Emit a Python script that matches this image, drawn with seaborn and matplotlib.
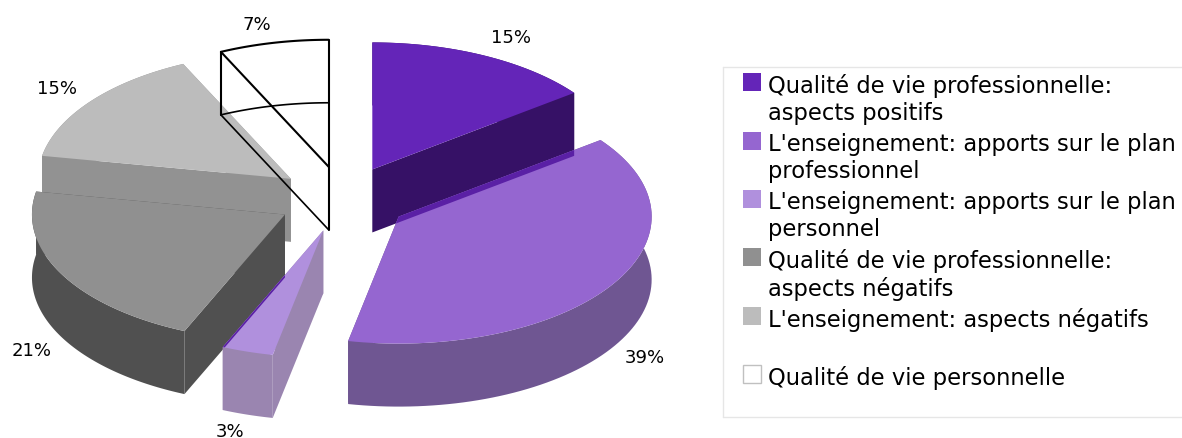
import matplotlib
matplotlib.use("Agg")
import matplotlib.pyplot as plt
import numpy as np
import seaborn as sns
from matplotlib.patches import Polygon, Rectangle

# shares of the pie, clockwise from twelve o'clock
categories = [
    "Qualité de vie professionnelle:\naspects positifs",
    "L'enseignement: apports sur le plan\nprofessionnel",
    "L'enseignement: apports sur le plan\npersonnel",
    "Qualité de vie professionnelle:\naspects négatifs",
    "L'enseignement: aspects négatifs",
    "Qualité de vie personnelle",
]
values = [14.7, 38.5, 3.3, 21.4, 15.1, 7.0]

top_colors = ["#6425b8", "#9566d0", "#b090dd", "#909090", "#bcbcbc", "#ffffff"]
wall_colors = ["#361166", "#6f5692", "#9a85b0", "#505050", "#929292", "#ffffff"]
overlap_color = "#5a20a5"

# the pie geometry, in pixels of the picture
CENTER = (343, 200)
RX, RY = 253, 127
DEPTH = 63
EXPLODE = 0.26

label_pos = [(511, 38), (645, 358), (230, 432), (32, 351), (57, 89), (257, 25)]
legend_rows = [74, 133, 191, 249, 308, 366]

sns.set_style("white")
palette = sns.color_palette(top_colors)
wall_palette = sns.color_palette(wall_colors)


def slice_geometry(start, end):
    """
    Apex and outer arc of a slice, angles in degrees clockwise from the top
    """
    mid = np.radians((start + end) / 2)
    apex = np.array([CENTER[0] + EXPLODE * RX * np.sin(mid),
                     CENTER[1] - EXPLODE * RY * np.cos(mid)])
    theta = np.radians(np.linspace(start, end, 80))
    arc = np.column_stack([apex[0] + RX * np.sin(theta), apex[1] - RY * np.cos(theta)])
    return apex, arc


def draw_solid(ax, idx, apex, arc):
    """
    Draw walls then top surface of one slice, returns the top patch
    """
    down = np.array([0, DEPTH])
    wall = wall_palette[idx]
    # radial walls
    for edge in (arc[0], arc[-1]):
        pts = [apex, edge, edge + down, apex + down]
        ax.add_patch(Polygon(pts, closed=True, fc=wall, ec="none"))
    # outer curved wall
    pts = np.vstack([arc, (arc + down)[::-1]])
    ax.add_patch(Polygon(pts, closed=True, fc=wall, ec="none"))
    pts = np.vstack([apex, arc])
    return ax.add_patch(Polygon(pts, closed=True, fc=palette[idx], ec="none"))


def draw_overlap(ax, wall_geo, edge, top_patch):
    """
    Where a radial wall runs over the next slice the original shows a darker strip
    """
    apex, arc = wall_geo
    down = np.array([0, DEPTH])
    pts = [apex, arc[edge], arc[edge] + down, apex + down]
    strip = Polygon(pts, closed=True, fc=overlap_color, ec="none")
    ax.add_patch(strip)
    strip.set_clip_path(top_patch)


fig = plt.figure(figsize=(11.82, 4.39), dpi=100)
ax = fig.add_axes([0, 0, 1, 1])
ax.set_xlim(0, 1182)
ax.set_ylim(439, 0)
ax.axis("off")

edges = np.cumsum([0] + values) * 3.6
geometry = [slice_geometry(edges[i], edges[i + 1]) for i in range(len(values))]

# back to front
tops = {}
for idx in [4, 3, 0, 1, 2]:
    tops[idx] = draw_solid(ax, idx, *geometry[idx])

draw_overlap(ax, geometry[0], -1, tops[1])
draw_overlap(ax, geometry[3], 0, tops[2])

# white slice is only an outline
apex, arc = geometry[5]
ax.plot(arc[:, 0], arc[:, 1], color="black", lw=1.5)
ax.plot([apex[0], arc[0, 0]], [apex[1], arc[0, 1]], color="black", lw=1.5)
ax.plot([arc[0, 0], arc[0, 0]], [arc[0, 1], arc[0, 1] + DEPTH], color="black", lw=1.5)
ax.plot([arc[-1, 0], arc[-1, 0]], [arc[-1, 1], apex[1] + DEPTH], color="black", lw=1.5)
ax.plot(arc[:, 0], arc[:, 1] + DEPTH, color="black", lw=1.2)
ax.plot([apex[0], arc[0, 0]], [apex[1] + DEPTH, arc[0, 1] + DEPTH], color="black", lw=1.2)

for val, (x, y) in zip(values, label_pos):
    ax.text(x, y, f"{int(val + 0.5)}%", ha="center", va="center", fontsize=13, color="black")

# legend box, only top, left and bottom are visible
for xs, ys in [([723, 723], [68, 418]), ([723, 1182], [68, 68]), ([723, 1182], [418, 418])]:
    ax.plot(xs, ys, color="#e6e6e6", lw=1)

for idx, (name, y) in enumerate(zip(categories, legend_rows)):
    ax.add_patch(Rectangle((743, y), 18, 18, fc=palette[idx],
                           ec="#c0c0c0" if idx == 5 else "none", lw=1))
    ax.text(768, y, name, ha="left", va="top", fontsize=16.3, color="black", linespacing=1.22)

fig.savefig("out.png", dpi=100)
